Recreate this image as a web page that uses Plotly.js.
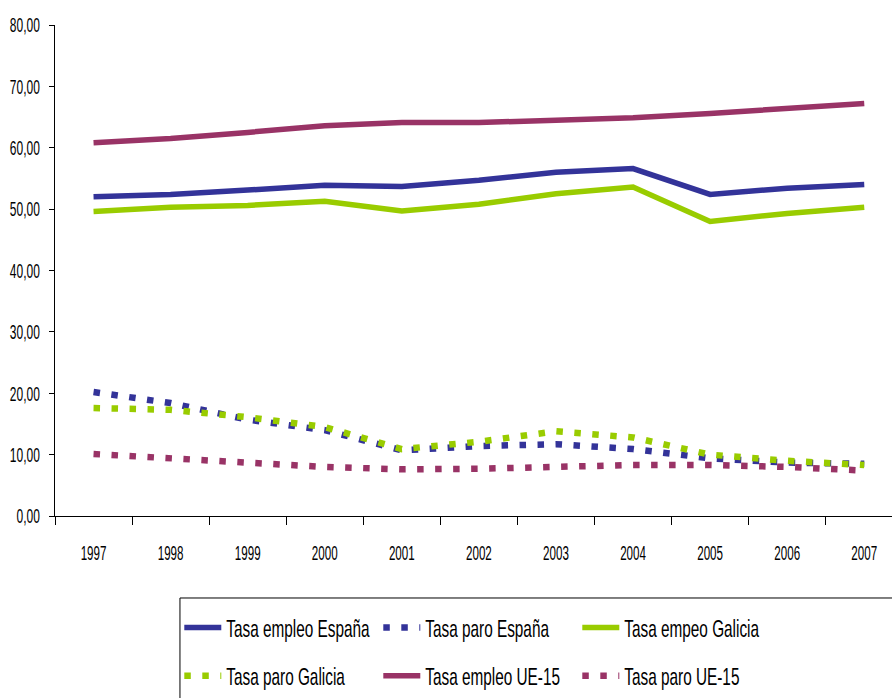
<!DOCTYPE html>
<html>
<head>
<meta charset="utf-8">
<script src="https://cdn.plot.ly/plotly-3.0.1.min.js"></script>
<style>
html,body{margin:0;padding:0;background:#fff;}
#chart{width:892px;height:698px;}
/* the original uses a narrow, tall typeface: condense legend text horizontally */
#chart text.legendtext, #chart text.legend2text{transform-box:fill-box;transform-origin:0 50%;transform:scaleX(0.64);}
</style>
</head>
<body>
<div id="chart"></div>
<script>
const years = ['1997','1998','1999','2000','2001','2002','2003','2004','2005','2006','2007'];
const empleoEspana  = [52.0, 52.4, 53.1, 53.9, 53.7, 54.7, 56.0, 56.6, 52.4, 53.4, 54.0];
const paroEspana    = [20.2, 18.4, 15.7, 14.0, 10.7, 11.4, 11.7, 10.9, 9.4, 8.7, 8.5];
const empleoGalicia = [49.6, 50.3, 50.6, 51.3, 49.7, 50.8, 52.5, 53.6, 48.0, 49.3, 50.3];
const paroGalicia   = [17.6, 17.3, 16.1, 14.5, 10.9, 12.1, 13.8, 12.8, 10.0, 9.0, 8.3];
const empleoUE15    = [60.8, 61.5, 62.5, 63.6, 64.1, 64.1, 64.5, 64.9, 65.6, 66.4, 67.2];
const paroUE15      = [10.1, 9.5, 8.7, 8.0, 7.6, 7.7, 8.0, 8.3, 8.3, 8.0, 7.4];
const seriesNames = ['Tasa empleo España','Tasa paro España','Tasa empeo Galicia','Tasa paro Galicia','Tasa empleo UE-15','Tasa paro UE-15'];

const BLUE = '#333399', GREEN = '#99CC00', MAROON = '#993366';
const solid = (c) => ({color: c, width: 5.5, dash: 'solid'});
const dotted = (c) => ({color: c, width: 6.5, dash: '6.5px,11.5px'});

const traces = [
  {x: years, y: empleoEspana,  name: seriesNames[0], line: solid(BLUE),    legend: 'legend'},
  {x: years, y: paroEspana,    name: seriesNames[1], line: dotted(BLUE),   legend: 'legend'},
  {x: years, y: empleoGalicia, name: seriesNames[2], line: solid(GREEN),   legend: 'legend'},
  {x: years, y: paroGalicia,   name: seriesNames[3], line: dotted(GREEN),  legend: 'legend2'},
  {x: years, y: empleoUE15,    name: seriesNames[4], line: solid(MAROON),  legend: 'legend2'},
  {x: years, y: paroUE15,      name: seriesNames[5], line: dotted(MAROON), legend: 'legend2'}
].map(t => Object.assign({type: 'scatter', mode: 'lines', hoverinfo: 'x+y+name'}, t));

const FONT = '"Liberation Sans", Arial, sans-serif';
const legendCommon = {
  orientation: 'h', xanchor: 'left', yanchor: 'middle', x: 0.1485,
  entrywidth: 147, entrywidthmode: 'pixels', itemwidth: 37,
  bgcolor: 'rgba(0,0,0,0)', borderwidth: 0,
  font: {family: FONT, size: 24, color: '#000'}, traceorder: 'normal'
};

const layout = {
  width: 892, height: 698,
  margin: {l: 55, r: 0, t: 25, b: 182, autoexpand: false},
  paper_bgcolor: '#fff', plot_bgcolor: '#fff',
  separators: ',.',
  font: {family: FONT, color: '#000'},
  showlegend: true,
  xaxis: {
    type: 'category', range: [-0.5, 10.36], showgrid: false, zeroline: false,
    showline: true, linecolor: '#000', linewidth: 1,
    ticks: 'outside', tickson: 'boundaries', ticklen: 8, tickcolor: '#000', tickwidth: 1,
    ticklabelstandoff: 19,
    tickfont: {family: FONT, size: 20, color: '#000'}
  },
  yaxis: {
    range: [0, 80], tickvals: [0,10,20,30,40,50,60,70,80], tickformat: '.2f',
    showgrid: false, zeroline: false, showline: true, linecolor: '#000', linewidth: 1,
    ticks: 'outside', ticklen: 5, tickcolor: '#000', tickwidth: 1,
    ticklabelstandoff: 5,
    tickfont: {family: FONT, size: 21, color: '#000'}
  },
  legend: Object.assign({}, legendCommon, {y: -0.228}),
  legend2: Object.assign({}, legendCommon, {y: -0.326}),
  shapes: [{
    type: 'rect', xref: 'paper', yref: 'paper',
    x0: 0.1493, x1: 1.05, y0: -0.167, y1: -0.42,
    line: {color: '#000', width: 1}, fillcolor: 'rgba(0,0,0,0)', layer: 'below'
  }]
};

// Condense tick labels horizontally (narrow, tall typeface in the original)
function squeeze(selector, ratio) {
  document.querySelectorAll(selector).forEach(t => {
    const content = t.textContent;
    if (t.getAttribute('data-sq') === content) return;
    t.removeAttribute('textLength');
    const L = t.getComputedTextLength();
    if (L > 0) {
      t.setAttribute('textLength', (L * ratio).toFixed(1));
      t.setAttribute('lengthAdjust', 'spacingAndGlyphs');
      t.setAttribute('data-sq', content);
    }
  });
}
function squeezeAll() {
  squeeze('#chart .ytick text', 0.57);
  squeeze('#chart .xtick text', 0.58);
}

const gd = document.getElementById('chart');
Plotly.newPlot(gd, traces, layout, {displayModeBar: false, staticPlot: true}).then(() => {
  squeezeAll();
  gd.on('plotly_afterplot', squeezeAll);
  setTimeout(squeezeAll, 0);
});
</script>
</body>
</html>
